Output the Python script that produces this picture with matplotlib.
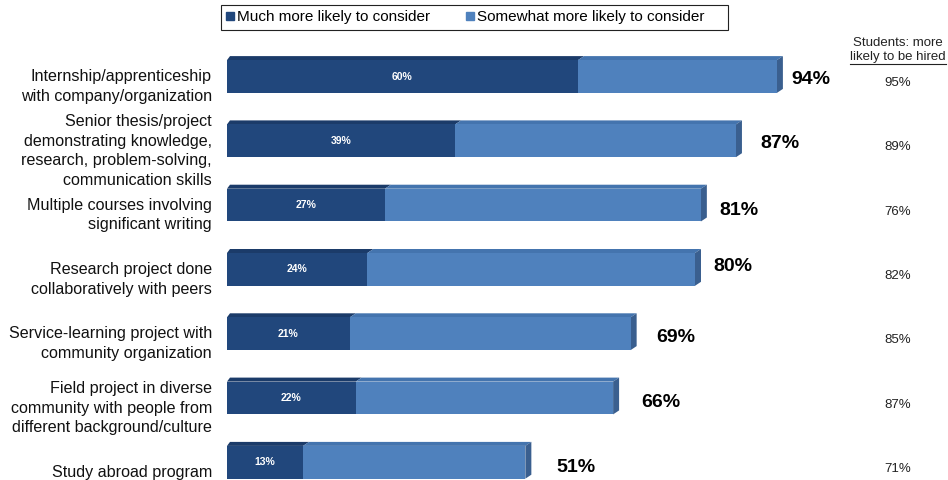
import matplotlib
matplotlib.use("Agg")
import matplotlib.pyplot as plt
from matplotlib.patches import Polygon, Rectangle
from matplotlib.lines import Line2D
import matplotlib.transforms as mtransforms

categories = [
    "Internship/apprenticeship\nwith company/organization",
    "Senior thesis/project\ndemonstrating knowledge,\nresearch, problem-solving,\ncommunication skills",
    "Multiple courses involving\nsignificant writing",
    "Research project done\ncollaboratively with peers",
    "Service-learning project with\ncommunity organization",
    "Field project in diverse\ncommunity with people from\ndifferent background/culture",
    "Study abroad program",
]
much_more = [60, 39, 27, 24, 21, 22, 13]
total_more = [94, 87, 81, 80, 69, 66, 51]
students_hired = [95, 89, 76, 82, 85, 87, 71]
series_names = ["Much more likely to consider", "Somewhat more likely to consider"]
students_header = "Students: more"
students_header2 = "likely to be hired"

somewhat_more = [t - m for t, m in zip(total_more, much_more)]

plt.rcParams['font.family'] = ['Liberation Sans', 'DejaVu Sans']

W, H = 948, 480
fig = plt.figure(figsize=(W / 100, H / 100), dpi=100)
fig.patch.set_facecolor("white")

ax_left, ax_right = 227, 812
ax_top, ax_bot = 40, 480
ax = fig.add_axes([ax_left / W, 1 - ax_bot / H, (ax_right - ax_left) / W, (ax_bot - ax_top) / H])
row = 64.3
ax.set_xlim(0, 100)
ax.set_ylim((ax_bot - 76.5) / row, -(76.5 - ax_top) / row)
ax.axis("off")

dark_front = "#21477c"
dark_top = "#1b3b69"
light_front = "#4f81bd"
light_top = "#4474ae"
side_col = "#3a5f8f"

n = len(categories)
ys = list(range(n))
bh = 0.51
dx = 6 / 5.85
dy = 4 / row

ax.barh(ys, much_more, height=bh, color=dark_front, zorder=3)
ax.barh(ys, somewhat_more, left=much_more, height=bh, color=light_front, zorder=3)

for i in range(n):
    top = ys[i] - bh / 2
    bot = ys[i] + bh / 2
    m = much_more[i]
    t = total_more[i]
    ax.add_patch(Polygon([(0, top), (dx * 0.5, top - dy), (m + dx, top - dy), (m, top)],
                         closed=True, facecolor=dark_top, edgecolor="none", zorder=2))
    ax.add_patch(Polygon([(m, top), (m + dx, top - dy), (t + dx, top - dy), (t, top)],
                         closed=True, facecolor=light_top, edgecolor="none", zorder=2))
    ax.add_patch(Polygon([(t, top), (t + dx, top - dy), (t + dx, bot - dy), (t, bot)],
                         closed=True, facecolor=side_col, edgecolor="none", zorder=2))
    ax.text(m / 2, ys[i], f"{m}%", color="white", fontsize=7.5, fontweight="bold",
            ha="center", va="center", zorder=4)

label_pad_px = [8, 18, 13, 12, 20, 22, 25]
label_dy_px = [3, 3, 5, -3, 4, 4, 5]
for i in range(n):
    ax.annotate(f"{total_more[i]}%", xy=(total_more[i] + dx, ys[i]),
                xytext=(label_pad_px[i] * 0.72, -label_dy_px[i] * 0.72), textcoords="offset points",
                fontsize=14, fontweight="bold", ha="left", va="center", color="black",
                annotation_clip=False)

for i in range(n):
    ax.annotate(categories[i], xy=(0, ys[i]), xytext=(-15 * 0.72, -10 * 0.72),
                textcoords="offset points", ha="right", va="center", fontsize=11.6,
                linespacing=1.38, color="#111111", annotation_clip=False)

sx = 898
trans = mtransforms.blended_transform_factory(fig.transFigure, ax.transData)
offset = mtransforms.ScaledTranslation(0, -6.5 / 100, fig.dpi_scale_trans)
for i in range(n):
    fig.text(sx / W, ys[i], f"{students_hired[i]}%", transform=trans + offset,
             ha="center", va="center", fontsize=9.5, color="#222222")

fig.text(sx / W, 1 - 43.5 / H, students_header, ha="center", va="center", fontsize=9.5, color="#222222")
fig.text(sx / W, 1 - 57 / H, students_header2, ha="center", va="center", fontsize=9.5, color="#222222")
fig.add_artist(Line2D([850 / W, 946 / W], [1 - 64 / H, 1 - 64 / H], color="#222222", lw=0.8,
                      transform=fig.transFigure))

# legend with a manually drawn frame
fig.add_artist(Rectangle((221 / W, 1 - 30 / H), (728 - 221) / W, 25 / H, transform=fig.transFigure,
                         facecolor="white", edgecolor="#222222", lw=0.8, zorder=1))
handles = [Line2D([], [], marker="s", linestyle="none", markersize=5.5, color=dark_front),
           Line2D([], [], marker="s", linestyle="none", markersize=5.5, color=light_front)]
leg = fig.legend(handles, series_names, loc="center left", bbox_to_anchor=(226 / W, 1 - 17.5 / H),
                 ncol=2, frameon=False, fontsize=11, handlelength=0.5, handletextpad=0.25,
                 columnspacing=2.3, borderpad=0.0, borderaxespad=0)
leg.set_zorder(2)

fig.savefig("out.png", dpi=100, facecolor="white")
